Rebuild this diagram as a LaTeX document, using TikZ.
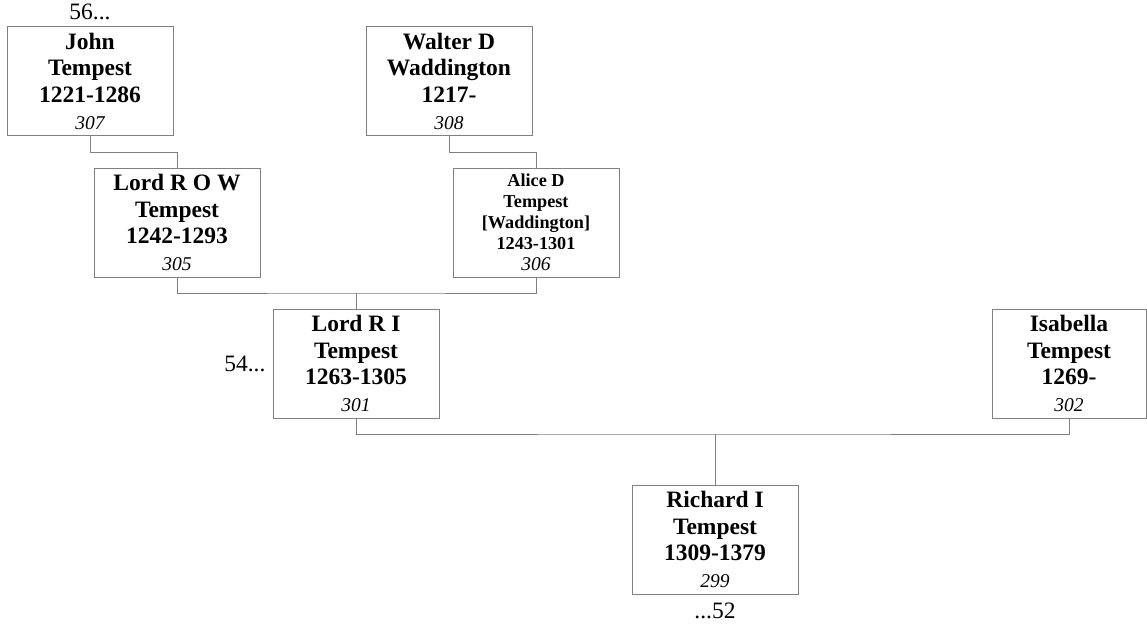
\documentclass[tikz,border=0pt]{standalone}
\usepackage{fontspec}
\setmainfont{Liberation Serif}
\usetikzlibrary{positioning}
\definecolor{linegray}{RGB}{128,128,128}

\begin{document}
\begin{tikzpicture}[x=1pt,y=-1pt,
    person/.style={draw=linegray, line width=0.8pt, minimum width=166pt,
      minimum height=109pt, inner sep=0pt, align=center,
      font=\bfseries\fontsize{23.5}{26.7}\selectfont},
    small/.style={font=\bfseries\fontsize{18.2}{21}\selectfont},
    link/.style={draw=linegray, line width=0.8pt},
    note/.style={inner sep=0pt, font=\fontsize{23.5}{26.7}\selectfont}]
  % overall frame
  \useasboundingbox (0,0) rectangle (1147,623);

  % number under each name
  \def\pnum#1{{\normalfont\itshape\fontsize{19.5}{21}\selectfont #1}}

  % grandparents
  \node[person] (john)   at (90,81)  {John\\Tempest\\1221-1286\\\pnum{307}};
  \node[person] (walter) at (449,81) {Walter D\\Waddington\\1217-\\\pnum{308}};

  % parents
  \node[person] (row)   at (177,222.5) {Lord R O W\\Tempest\\1242-1293\\\pnum{305}};
  \node[person, small] (alice) at (536,222.5) {Alice D\\Tempest\\{}[Waddington]\\1243-1301\\\pnum{306}};

  % couple of the next row
  \node[person] (lordri)   at (356,363.5) {Lord R I\\Tempest\\1263-1305\\\pnum{301}};
  \node[person, minimum width=154pt] (isabella) at (1069,363.5) {Isabella\\Tempest\\1269-\\\pnum{302}};

  % child
  \node[person] (richard) at (715,539.5) {Richard I\\Tempest\\1309-1379\\\pnum{299}};

  % page references
  \node[note, above=6pt of john] (john-up) {56...};
  \node[note, left=7pt of lordri] (lordri-left) {54...};
  \node[note, below=8pt of richard] (richard-down) {...52};

  % parent to child lines
  \draw[link] (john.south) -- ++(0,16) -| (row.north);
  \draw[link] (walter.south) -- ++(0,16) -| (alice.north);

  % marriages
  \coordinate (wed1) at (lordri.north |- 0,293);
  \draw[link] (row.south) |- (wed1) -| (alice.south);
  \draw[link] (wed1) -- (lordri.north);

  \coordinate (wed2) at (richard.north |- 0,434);
  \draw[link] (lordri.south) |- (wed2) -| (isabella.south);
  \draw[link] (wed2) -- (richard.north);
\end{tikzpicture}
\end{document}
